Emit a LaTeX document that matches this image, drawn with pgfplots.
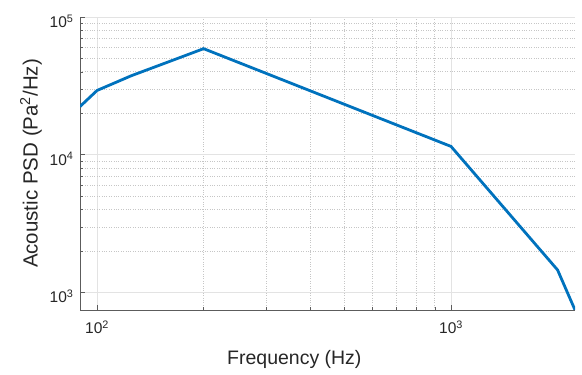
\documentclass[border=0pt]{standalone}
\usepackage{fontspec}
\setmainfont{Liberation Sans}
\usepackage{pgfplots}
\pgfplotsset{compat=1.18}
\definecolor{mblue}{rgb}{0,0.447,0.741}
\definecolor{mtext}{rgb}{0.15,0.15,0.15}
\begin{document}
\begin{tikzpicture}
\path[use as bounding box] (-80pt,-65pt) rectangle (502pt,310pt);
\begin{axis}[
  at={(0pt,0pt)}, anchor=south west,
  scale only axis, width=495pt, height=293pt,
  xmode=log, ymode=log,
  xmin=89.5, xmax=2240, ymin=748, ymax=100000,
  axis x line*=bottom, axis y line*=left,
  axis line style={draw=mtext!75, line width=0.8pt, -},
  xtick={100,1000}, xticklabels={10\textsuperscript{2},10\textsuperscript{3}},
  ytick={1000,10000,100000}, yticklabels={10\textsuperscript{3},10\textsuperscript{4},10\textsuperscript{5}},
  tick label style={font=\fontsize{15.5}{18}\selectfont, text=mtext},
  xticklabel style={yshift=-7pt},
  yticklabel style={xshift=-3pt, yshift=-4pt},
  major tick length=5pt, minor tick length=3pt,
  tick style={draw=mtext!75, line width=0.6pt},
  grid=both,
  major grid style={solid, draw=gray!22, line width=0.7pt},
  minor grid style={dotted, draw=gray!45, line width=0.7pt},
  xlabel={Frequency (Hz)},
  ylabel={Acoustic PSD (Pa\textsuperscript{2}/Hz)},
  xlabel style={font=\fontsize{19.5}{22}\selectfont, text=mtext, at={(axis description cs:0.433,0)}, anchor=north, yshift=-37pt},
  ylabel style={font=\fontsize{20.5}{23}\selectfont, text=mtext, at={(axis description cs:-0.099,0.5)}, anchor=center},
]
\addplot[mblue, line width=2.8pt] coordinates {
  (89.5,22400) (100,29300) (125,37500) (160,47500) (200,58900)
  (1000,11500) (2000,1460) (2240,748)
};
\end{axis}
\end{tikzpicture}
\end{document}
